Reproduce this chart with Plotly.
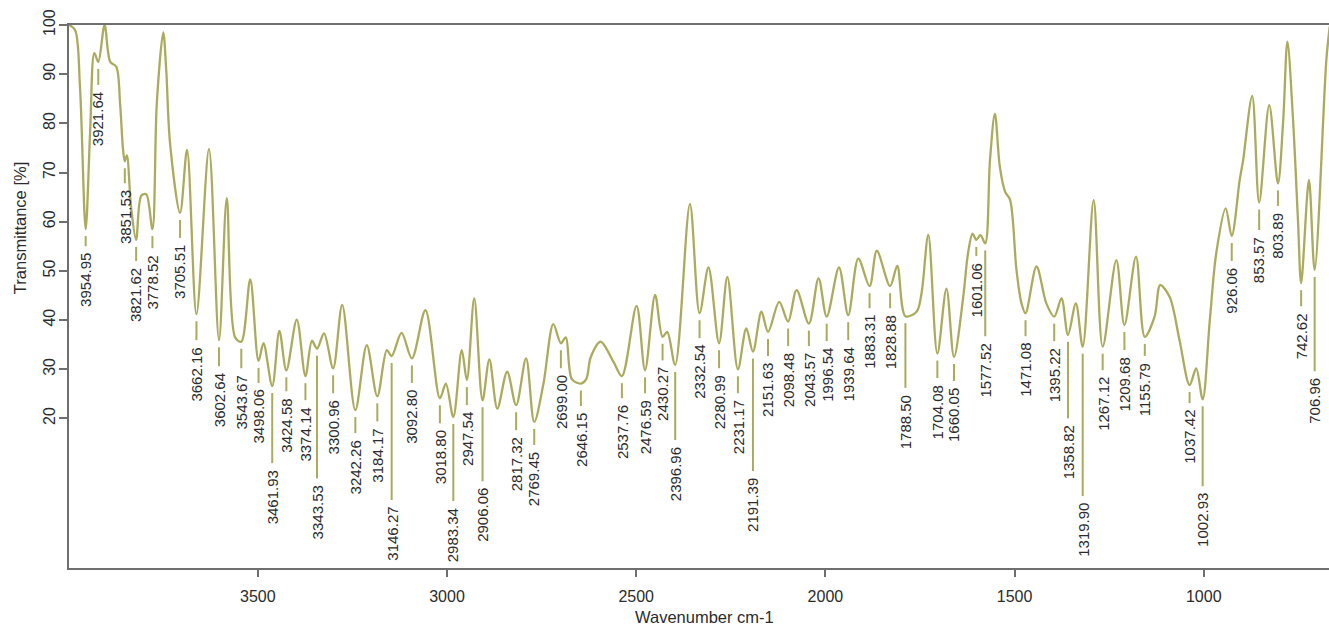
import plotly.graph_objects as go

# ---------------- data ----------------
curve_wn = [3999, 3983, 3970, 3955, 3943, 3932, 3921.6, 3905, 3890, 3874, 3864, 3856,
            3851.5, 3846, 3835, 3821.6, 3808, 3795, 3778.5, 3767, 3750, 3742, 3732,
            3705.5, 3687, 3662.2, 3629, 3602.6, 3582, 3560, 3543.7, 3520, 3498.1, 3485,
            3461.9, 3443, 3424.6, 3397, 3374.1, 3357, 3343.5, 3325, 3301.0, 3277, 3242.3,
            3212, 3184.2, 3159, 3146.3, 3120, 3092.8, 3057, 3018.8, 3003, 2983.3, 2961,
            2947.5, 2928, 2906.1, 2888, 2867, 2841, 2817.3, 2791, 2769.5, 2745, 2719,
            2699.0, 2686, 2670, 2646.2, 2632, 2620, 2594, 2560, 2537.8, 2499, 2476.6,
            2450, 2430.3, 2418, 2397.0, 2358, 2332.5, 2309, 2281.0, 2259, 2231.2, 2209,
            2191.4, 2169, 2151.6, 2122, 2098.5, 2076, 2043.6, 2018, 1996.5, 1964, 1939.6,
            1913, 1883.3, 1864, 1828.9, 1810, 1788.5, 1759, 1746, 1728, 1704.1, 1680,
            1660.1, 1636, 1623, 1611, 1601.1, 1590, 1577.5, 1565, 1552, 1539, 1525, 1512,
            1495, 1482, 1471.1, 1442, 1416, 1395.2, 1376, 1358.8, 1338, 1319.9, 1291,
            1267.1, 1231, 1209.7, 1179, 1155.8, 1130, 1115, 1090, 1064, 1037.4, 1020,
            1002.9, 984, 967, 942, 926.1, 905, 896, 872, 853.6, 827, 803.9, 790, 779, 764,
            751, 742.6, 722, 707.0, 676, 667]
curve_t = [100.0, 99.0, 87.5, 58.5, 78.6, 94.3, 92.5, 100.0, 92.5, 91.5, 84.0, 74.5,
           72.3, 73.5, 63.0, 56.3, 65.3, 65.6, 58.5, 84.0, 98.5, 90.8, 76.0,
           61.8, 74.6, 41.2, 74.8, 35.9, 64.8, 36.5, 35.6, 48.3, 31.7, 35.3,
           26.6, 37.8, 29.8, 40.1, 28.6, 35.8, 34.2, 37.3, 30.2, 43.1, 21.7,
           34.9, 24.5, 33.9, 32.7, 37.4, 32.2, 42.0, 24.1, 27.1, 20.3, 33.9,
           27.8, 44.4, 23.7, 32.0, 22.0, 29.5, 22.7, 32.2, 19.3, 27.1, 39.2,
           35.3, 36.5, 28.0, 27.1, 28.0, 32.5, 35.6, 31.5, 28.6, 42.9, 29.8,
           45.1, 36.6, 37.6, 30.9, 63.6, 41.4, 50.7, 35.3, 48.8, 30.0, 38.3,
           33.6, 41.7, 37.6, 43.7, 39.7, 46.1, 39.3, 48.5, 40.7, 50.7, 41.0,
           52.5, 46.9, 54.1, 46.9, 51.0, 40.8, 41.7, 45.4, 57.3, 33.2, 46.4,
           32.5, 44.5, 53.6, 57.6, 56.3, 57.3, 55.6, 72.5, 82.0, 71.2, 66.1, 64.5,
           50.2, 43.5, 41.4, 50.9, 43.4, 40.7, 44.4, 37.0, 43.4, 34.6, 64.4,
           34.6, 52.2, 39.0, 52.9, 36.6, 40.7, 47.1, 44.7, 35.9, 26.8, 30.2,
           23.9, 40.0, 53.6, 62.7, 57.1, 68.5, 72.5, 85.6, 63.9, 83.7, 67.8, 80.7, 96.6, 80.7,
           60.3, 47.5, 68.5, 50.2, 92.9, 99.7]

peak_labels = ["3954.95", "3921.64", "3851.53", "3821.62", "3778.52", "3705.51", "3662.16",
               "3602.64", "3543.67", "3498.06", "3461.93", "3424.58", "3374.14", "3343.53",
               "3300.96", "3242.26", "3184.17", "3146.27", "3092.80", "3018.80", "2983.34",
               "2947.54", "2906.06", "2817.32", "2769.45", "2699.00", "2646.15", "2537.76",
               "2476.59", "2430.27", "2396.96", "2332.54", "2280.99", "2231.17", "2191.39",
               "2151.63", "2098.48", "2043.57", "1996.54", "1939.64", "1883.31", "1828.88",
               "1788.50", "1704.08", "1660.05", "1601.06", "1577.52", "1471.08", "1395.22",
               "1358.82", "1319.90", "1267.12", "1209.68", "1155.79", "1037.42", "1002.93",
               "926.06", "853.57", "803.89", "742.62", "706.96"]
# transmittance at each labelled minimum
peak_t = [58.5, 92.5, 72.3, 56.3, 58.5, 61.8, 41.2,
          35.9, 35.6, 31.7, 26.6, 29.8, 28.6, 34.2,
          30.2, 21.7, 24.5, 32.7, 32.2, 24.1, 20.3,
          27.8, 23.7, 22.7, 19.3, 35.3, 27.1, 28.6,
          29.8, 36.6, 30.9, 41.4, 35.3, 30.0, 33.6,
          37.6, 39.7, 39.3, 40.7, 41.0, 46.9, 46.9,
          40.8, 33.2, 32.5, 56.3, 55.6, 41.4, 40.7,
          37.0, 34.6, 34.6, 39.0, 36.6, 26.8, 23.9,
          57.1, 63.9, 67.8, 47.5, 50.2]
# transmittance level where each label's text begins
label_top_t = [53.6, 86.4, 66.4, 50.6, 53.2, 55.3, 34.5,
               29.2, 28.8, 25.8, 9.5, 24.1, 22.3, 6.4,
               23.7, 15.6, 18.0, 2.0, 25.8, 17.6, 1.8,
               21.3, 5.8, 16.2, 13.2, 28.8, 21.1, 22.7,
               23.7, 30.4, 14.2, 34.9, 28.8, 23.7, 7.9,
               31.3, 33.3, 33.3, 34.3, 34.5, 41.0, 41.0,
               24.8, 26.8, 26.2, 51.6, 35.3, 35.3, 34.3,
               18.6, 2.8, 28.4, 32.5, 31.3, 21.7, 4.8,
               50.6, 56.9, 61.8, 41.4, 28.2]

x_ticks = [3500, 3000, 2500, 2000, 1500, 1000]
y_ticks = [20, 30, 40, 50, 60, 70, 80, 90, 100]

# ---------------- layout constants ----------------
W, H = 1329, 626
M_L, M_R, M_T, M_B = 69, 0, 25, 58
X_RANGE = [3999, 669]
Y_RANGE = [-10.4, 100]
PLOT_H = H - M_T - M_B
U = (Y_RANGE[1] - Y_RANGE[0]) / PLOT_H  # data units per pixel

CURVE = "#abab5e"
AXIS = "#6f6f6f"
TEXT = "#2b2b2b"
FONT = "Liberation Sans, Arial, sans-serif"

fig = go.Figure()
fig.add_trace(go.Scatter(x=curve_wn, y=curve_t, mode="lines",
                         line=dict(color=CURVE, width=2.3, shape="spline", smoothing=0.9),
                         hoverinfo="skip", showlegend=False))

dash_x, dash_y = [], []
for lab, tmin, ttop in zip(peak_labels, peak_t, label_top_t):
    w = float(lab)
    dash_x += [w, w, None]
    dash_y += [tmin - 7 * U, ttop + 7 * U, None]
fig.add_trace(go.Scatter(x=dash_x, y=dash_y, mode="lines",
                         line=dict(color=CURVE, width=2),
                         hoverinfo="skip", showlegend=False))

annotations = []
for lab, ttop in zip(peak_labels, label_top_t):
    annotations.append(dict(x=float(lab), y=ttop, xref="x", yref="y", text=lab,
                            textangle=-90, showarrow=False, xanchor="center",
                            yanchor="top", yshift=2,
                            font=dict(family=FONT, size=15, color=TEXT)))

annotations.append(dict(x=0.5, y=0, xref="paper", yref="paper", text="Wavenumber cm-1",
                        showarrow=False, xanchor="center", yanchor="middle",
                        xshift=5, yshift=-49,
                        font=dict(family=FONT, size=16.5, color=TEXT)))
annotations.append(dict(x=0, y=58.7, xref="paper", yref="y", text="Transmittance [%]",
                        textangle=-90, showarrow=False, xanchor="center",
                        yanchor="middle", xshift=-49,
                        font=dict(family=FONT, size=16.5, color=TEXT)))

fig.update_layout(
    width=W, height=H,
    margin=dict(l=M_L, r=M_R, t=M_T, b=M_B, pad=0, autoexpand=False),
    paper_bgcolor="white", plot_bgcolor="white",
    annotations=annotations,
    xaxis=dict(range=X_RANGE, tickvals=x_ticks, ticks="outside", ticklen=7,
               tickwidth=1.5, tickcolor=AXIS, showline=True, linecolor=AXIS,
               linewidth=2, mirror=True, showgrid=False, zeroline=False,
               ticklabelstandoff=6, automargin=False,
               tickfont=dict(family=FONT, size=16, color=TEXT)),
    yaxis=dict(range=Y_RANGE, tickvals=y_ticks, ticks="outside", ticklen=8,
               tickwidth=1.5, tickcolor=AXIS, showline=True, linecolor=AXIS,
               linewidth=2, showgrid=False, zeroline=False, tickangle=-90,
               ticklabelstandoff=-2, automargin=False,
               tickfont=dict(family=FONT, size=16, color=TEXT)),
)

fig.write_html("out.html", config={"displayModeBar": False},
               post_script="document.body.style.margin='0';document.body.style.padding='0';")
